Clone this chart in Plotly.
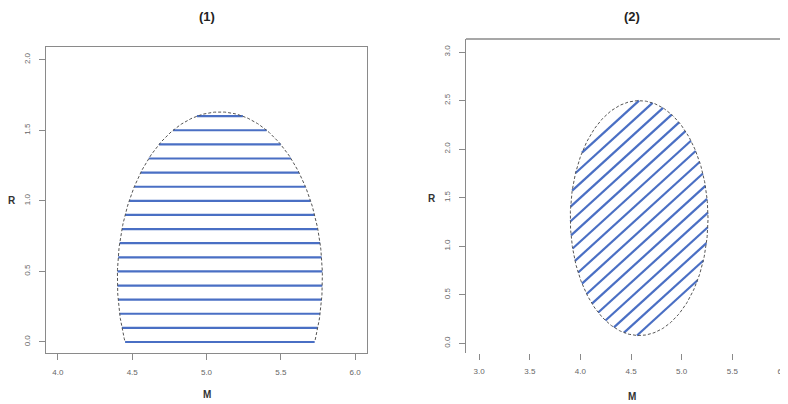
import numpy as np
import plotly.graph_objects as go

# ---- data ----
# panel (1): truncated ellipse (cut at R = 0) with horizontal hatching
ell1_center = [5.09, 0.45]      # (M, R)
ell1_semi = [0.69, 1.18]        # semi-axes along M and R
ell1_cut = 0.0                  # lower bound for R
hatch1_levels = [0.0, 0.1, 0.2, 0.3, 0.4, 0.5, 0.6, 0.7, 0.8, 0.9,
                 1.0, 1.1, 1.2, 1.3, 1.4, 1.5, 1.6]

# panel (2): ellipse with diagonal hatching  R = slope*M + c
ell2_center = [4.58, 1.29]
ell2_semi = [0.68, 1.21]
hatch2_slope = 0.95
hatch2_offsets = [-1.85, -2.00, -2.15, -2.30, -2.45, -2.60, -2.75, -2.90, -3.05,
                  -3.20, -3.35, -3.50, -3.65, -3.80, -3.95, -4.10, -4.25]

x1_ticks = [4.0, 4.5, 5.0, 5.5, 6.0]
y1_ticks = [0.0, 0.5, 1.0, 1.5, 2.0]
x2_ticks = [3.0, 3.5, 4.0, 4.5, 5.0, 5.5, 6.0]
y2_ticks = [0.0, 0.5, 1.0, 1.5, 2.0, 2.5, 3.0]

HATCH = "#4a6fc4"
OUTLINE = "#555555"
AXC = "#8a8a8a"
TXT = "#666666"

# the page body adds an 8px offset; lay the figure out in window pixels
OFF = 8
W, H = 788 - OFF, 404 - OFF


def px(x):
    return (x - OFF) / W


def py(y):
    return 1 - (y - OFF) / H


def ellipse_outline(center, semi, ymin=None, n=400):
    t = np.linspace(0, 2 * np.pi, n)
    x = center[0] + semi[0] * np.cos(t)
    y = center[1] + semi[1] * np.sin(t)
    if ymin is not None:
        keep = y >= ymin
        start = np.argmax(~keep[:-1] & keep[1:]) + 1 if (~keep).any() else 0
        x = np.roll(x, -start)
        y = np.roll(y, -start)
        keep = np.roll(keep, -start)
        x, y = x[keep], y[keep]
    return x, y


def horizontal_hatch(center, semi, levels):
    xs, ys = [], []
    for h in levels:
        r = 1 - ((h - center[1]) / semi[1]) ** 2
        if r <= 0:
            continue
        d = semi[0] * np.sqrt(r)
        xs += [center[0] - d, center[0] + d, None]
        ys += [h, h, None]
    return xs, ys


def slanted_hatch(center, semi, slope, offsets):
    cx, cy = center
    a, b = semi
    xs, ys = [], []
    for c in offsets:
        A = 1 / a ** 2 + slope ** 2 / b ** 2
        B = -2 * cx / a ** 2 + 2 * slope * (c - cy) / b ** 2
        C = cx ** 2 / a ** 2 + (c - cy) ** 2 / b ** 2 - 1
        disc = B * B - 4 * A * C
        if disc <= 0:
            continue
        r = np.sqrt(disc)
        xa, xb = (-B - r) / (2 * A), (-B + r) / (2 * A)
        xs += [xa, xb, None]
        ys += [slope * xa + c, slope * xb + c, None]
    return xs, ys


fig = go.Figure()

hx1, hy1 = horizontal_hatch(ell1_center, ell1_semi, hatch1_levels)
fig.add_trace(go.Scatter(x=hx1, y=hy1, mode="lines", line=dict(color=HATCH, width=2.2),
                         xaxis="x", yaxis="y", hoverinfo="skip", showlegend=False))
ox1, oy1 = ellipse_outline(ell1_center, ell1_semi, ymin=ell1_cut)
fig.add_trace(go.Scatter(x=ox1, y=oy1, mode="lines",
                         line=dict(color=OUTLINE, width=1, dash="3px,2px"),
                         xaxis="x", yaxis="y", hoverinfo="skip", showlegend=False))

hx2, hy2 = slanted_hatch(ell2_center, ell2_semi, hatch2_slope, hatch2_offsets)
fig.add_trace(go.Scatter(x=hx2, y=hy2, mode="lines", line=dict(color=HATCH, width=2.2),
                         xaxis="x2", yaxis="y2", hoverinfo="skip", showlegend=False))
ox2, oy2 = ellipse_outline(ell2_center, ell2_semi)
fig.add_trace(go.Scatter(x=ox2, y=oy2, mode="lines",
                         line=dict(color=OUTLINE, width=1, dash="3px,2px"),
                         xaxis="x2", yaxis="y2", hoverinfo="skip", showlegend=False))

tickfont = dict(family="Liberation Sans, Arial, sans-serif", size=8, color=TXT)
common = dict(showgrid=False, zeroline=False, ticks="outside", ticklen=6,
              tickcolor=AXC, tickwidth=1, tickfont=tickfont, automargin=False,
              ticklabeloverflow="allow")

fig.update_layout(
    width=W, height=H, template="none",
    paper_bgcolor="white", plot_bgcolor="white",
    margin=dict(l=0, r=0, t=0, b=0),
    showlegend=False,
    xaxis=dict(domain=[px(46), px(367)], range=[3.92, 6.08],
               tickvals=x1_ticks, ticktext=[f"{v:.1f}" for v in x1_ticks],
               showline=True, mirror=True, linecolor=AXC, linewidth=1,
               anchor="y", ticklabelstandoff=5, **common),
    yaxis=dict(domain=[py(353), py(47)], range=[-0.078, 2.09],
               tickvals=y1_ticks, ticktext=[f"{v:.1f}" for v in y1_ticks],
               showline=True, mirror=True, linecolor=AXC, linewidth=1,
               tickangle=-90, anchor="x", ticklabelstandoff=6, **common),
    xaxis2=dict(domain=[px(466), 1.0], range=[2.87, 6.05],
                tickvals=x2_ticks, ticktext=[f"{v:.1f}" for v in x2_ticks],
                showline=False, anchor="y2", ticklabelstandoff=4, **common),
    yaxis2=dict(domain=[py(353), py(39)], range=[-0.1, 3.135],
                tickvals=y2_ticks, ticktext=[f"{v:.1f}" for v in y2_ticks],
                showline=True, linecolor=AXC, linewidth=1,
                tickangle=-90, anchor="x2", ticklabelstandoff=6, **common),
)

# top frame line of panel (2)
fig.add_shape(type="line", xref="x2 domain", yref="y2 domain", x0=0, x1=1, y0=1, y1=1,
              line=dict(color=AXC, width=1.5))

title_font = dict(family="Liberation Sans, Arial, sans-serif", size=13, color="#222222")
lab_font = dict(family="Liberation Sans, Arial, sans-serif", size=10, color="#333333")
ann = [
    dict(text="<b>(1)</b>", x=px(207), y=py(17), font=title_font),
    dict(text="<b>(2)</b>", x=px(632), y=py(16), font=title_font),
    dict(text="<b>R</b>", x=px(12), y=py(200), font=lab_font),
    dict(text="<b>M</b>", x=px(207), y=py(394), font=lab_font),
    dict(text="<b>R</b>", x=px(432), y=py(198), font=lab_font),
    dict(text="<b>M</b>", x=px(632), y=py(396), font=lab_font),
]
for a in ann:
    fig.add_annotation(xref="paper", yref="paper", showarrow=False,
                       xanchor="center", yanchor="middle", **a)

fig.write_html("out.html")
